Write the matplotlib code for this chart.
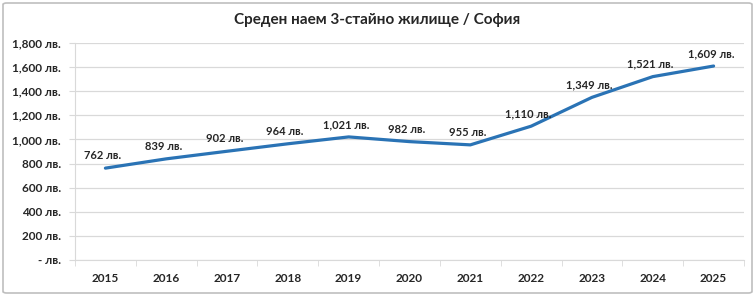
import matplotlib
matplotlib.use("Agg")
import matplotlib.pyplot as plt
from matplotlib.patches import FancyBboxPatch
from matplotlib.ticker import FixedLocator, NullFormatter

years = ["2015", "2016", "2017", "2018", "2019", "2020", "2021", "2022", "2023", "2024", "2025"]
rent = [762, 839, 902, 964, 1021, 982, 955, 1110, 1349, 1521, 1609]
yticks = [0, 200, 400, 600, 800, 1000, 1200, 1400, 1600, 1800]
title = "Среден наем 3-стайно жилище / София"

def fmt(v):
    return "- лв." if v == 0 else f"{v:,} лв."

plt.rcParams['font.family'] = ['Lato', 'DejaVu Sans']
W, H = 755, 296
fig = plt.figure(figsize=(W / 100, H / 100), dpi=100)

# chart border
fig.patches.append(FancyBboxPatch((3 / W, 3 / H), 1 - 6 / W, 1 - 6 / H,
                                  boxstyle="round,pad=0,rounding_size=0.005",
                                  transform=fig.transFigure, fill=False,
                                  edgecolor="#BFBFBF", linewidth=1.2))

left, right, top, bottom = 75, 744, 43, 260
ax = fig.add_axes([left / W, 1 - bottom / H, (right - left) / W, (bottom - top) / H])

x = list(range(len(years)))
ax.plot(x, rent, color="#2A73B5", linewidth=2.3, solid_capstyle="round", zorder=3)
for xi, v in zip(x, rent):
    ax.annotate(fmt(v), (xi, v), xytext=(-2, 5), textcoords="offset points",
                ha="center", va="bottom", fontsize=8, fontweight="bold", color="#262626")

ax.set_xlim(-0.5, len(years) - 0.5)
ax.set_ylim(0, 1800)
ax.set_yticks(yticks)
ax.set_yticklabels([fmt(v) for v in yticks], fontsize=8.5, fontweight="bold", color="#262626")
ax.set_xticks(x)
ax.set_xticklabels(years, fontsize=8.5, fontweight="bold", color="#262626")
ax.xaxis.set_minor_locator(FixedLocator([i + 0.5 for i in range(-1, len(years))]))
ax.xaxis.set_minor_formatter(NullFormatter())
ax.tick_params(axis="x", which="major", length=0, pad=9)
ax.tick_params(axis="x", which="minor", length=4, color="#D9D9D9", direction="out")
ax.tick_params(axis="y", length=4, color="#D9D9D9", pad=6)
ax.grid(axis="y", color="#D9D9D9", linewidth=0.9)
ax.set_axisbelow(True)
for s in ["top", "right"]:
    ax.spines[s].set_visible(False)
ax.spines["left"].set_color("#D9D9D9")
ax.spines["bottom"].set_color("#D9D9D9")

fig.text(0.5, 1 - 20 / H, title, ha="center", va="center", fontsize=11, fontweight="bold", color="#262626")

fig.savefig("out.png", dpi=100)
